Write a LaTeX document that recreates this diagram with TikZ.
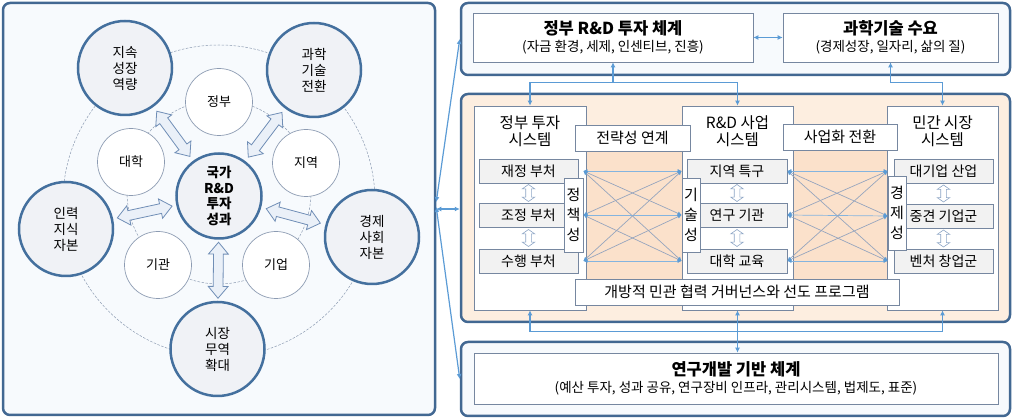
\documentclass[tikz,border=0pt]{standalone}
\usepackage{fontspec}
\setmainfont{Noto Sans CJK KR}
\usetikzlibrary{shapes,arrows,arrows.meta,positioning,calc}

\definecolor{panelline}{RGB}{66,104,146}
\definecolor{panelfill}{RGB}{247,250,253}
\definecolor{peach}{RGB}{253,238,224}
\definecolor{peachdark}{RGB}{251,225,203}
\definecolor{boxline}{RGB}{118,135,160}
\definecolor{subfill}{RGB}{242,242,242}
\definecolor{ringline}{RGB}{68,112,158}
\definecolor{circfill}{RGB}{240,242,246}
\definecolor{thinline}{RGB}{140,155,178}
\definecolor{connblue}{RGB}{91,155,213}
\definecolor{crossgray}{RGB}{150,165,190}
\definecolor{arrfill}{RGB}{234,240,248}
\definecolor{arrline}{RGB}{112,142,182}

\begin{document}
\begin{tikzpicture}[x=1pt, y=-1pt, >={Latex[length=5pt,width=5pt]},
    panel/.style={draw=panelline, line width=2.5pt, rounded corners=7pt, fill=panelfill, inner sep=0pt},
    ring/.style={circle, draw=thinline, dash pattern=on 2.5pt off 1.5pt, line width=0.5pt, inner sep=0pt},
    bigc/.style={circle, draw=ringline, line width=2.5pt, fill=circfill, minimum size=94pt, inner sep=0pt, align=center, font=\fontsize{13.5}{16}\selectfont},
    smallc/.style={circle, draw=thinline, line width=0.7pt, fill=white, minimum size=67pt, inner sep=0pt, font=\fontsize{13}{15}\selectfont},
    bigarrow/.style={double arrow, draw=arrline, fill=arrfill, line width=0.8pt, minimum height=56pt, inner xsep=0pt, inner ysep=4.5pt, double arrow head extend=5pt, double arrow tip angle=80, sloped},
    subarrow/.style={double arrow, draw=arrline!80, fill=white, line width=0.6pt, minimum height=17pt, inner xsep=0pt, inner ysep=2.5pt, double arrow head extend=3.5pt, double arrow tip angle=110, sloped},
    titlebox/.style={rectangle, draw=boxline, line width=0.7pt, fill=white, minimum height=49pt, inner sep=0pt, align=center, font=\fontsize{13.5}{17}\selectfont},
    sysbox/.style={rectangle, draw=boxline, line width=0.7pt, fill=white, minimum height=204pt, inner sep=0pt},
    syshead/.style={align=center, inner sep=0pt, font=\fontsize{15.5}{17}\selectfont},
    subbox/.style={rectangle, draw=boxline, line width=0.7pt, fill=subfill, minimum height=24pt, inner sep=0pt, font=\fontsize{14}{16}\selectfont},
    vbox/.style={rectangle, draw=boxline, line width=0.7pt, fill=white, minimum width=18pt, minimum height=74pt, inner sep=0pt, align=center, font=\fontsize{15}{20}\selectfont},
    labbox/.style={rectangle, draw=boxline, line width=0.7pt, fill=white, minimum height=26pt, inner sep=0pt, font=\fontsize{15}{17}\selectfont},
    conn/.style={draw=connblue, line width=1.2pt},
    cross/.style={draw=crossgray, line width=0.7pt, {Latex[length=4pt,width=4pt,color=connblue]}-{Latex[length=4pt,width=4pt,color=connblue]}},
    crossh/.style={cross, draw=connblue!75}]
    \useasboundingbox (0,0) rectangle (1013,419);

    % Left panel
    \node[panel, minimum width=432pt, minimum height=412pt] (leftpanel) at (219,209) {};
    \node[ring, minimum size=312pt] (outerring) at (219,201) {};
    \node[ring, minimum size=184pt] (innerring) at (219,192) {};

    % Outer circles
    \node[bigc] (jisok) at (125,68) {지속\\성장\\역량};
    \node[bigc] (gwahak) at (314,70) {과학\\기술\\전환};
    \node[bigc] (inryeok) at (66,229) {인력\\지식\\자본};
    \node[bigc] (gyeongje) at (372,237) {경제\\사회\\자본};
    \node[bigc] (sijang) at (217.5,349) {시장\\무역\\확대};

    % Inner circles
    \node[smallc] (jeongbu) at (219,102) {정부};
    \node[smallc] (daehakc) at (131,162) {대학};
    \node[smallc] (jiyeokc) at (306,163) {지역};
    \node[smallc] (gigwan) at (158,265) {기관};
    \node[smallc] (gieop) at (276,265) {기업};

    % Core
    \node[bigc, minimum size=85pt, font=\bfseries\fontsize{13.5}{15.5}\selectfont] (core) at (219,196) {국가\\R\&D\\투자\\성과};

    % Block arrows
    \path (core) -- node[bigarrow] (arrjisok) {} (jisok);
    \path (core) -- node[bigarrow] (arrgwahak) {} (gwahak);
    \path (core) -- node[bigarrow] (arrinryeok) {} (inryeok);
    \path (core) -- node[bigarrow] (arrgyeongje) {} (gyeongje);
    \path (core) -- node[bigarrow] (arrsijang) {} (sijang);

    % Top panel
    \node[panel, minimum width=549pt, minimum height=72pt] (toppanel) at (735.5,39) {};
    \node[titlebox, minimum width=280pt] (govrd) at (613,37.5) {{\bfseries\fontsize{16.5}{19}\selectfont 정부 R\&D 투자 체계}\\(자금 환경, 세제, 인센티브, 진흥)};
    \node[titlebox, minimum width=215pt] (scibox) at (890.5,37.5) {{\bfseries\fontsize{16.5}{19}\selectfont 과학기술 수요}\\(경제성장, 일자리, 삶의 질)};
    \draw[conn, <->] (govrd) -- (scibox);

    % Middle panel
    \node[panel, fill=peach, minimum width=549pt, minimum height=228pt] (midpanel) at (735.5,208) {};
    \fill[peachdark] (586,140) rectangle (682,292);
    \fill[peachdark] (793,140) rectangle (887,292);

    % Systems
    \node[sysbox, minimum width=112pt] (govsys) at (530,208) {};
    \node[sysbox, minimum width=111pt] (rdsys) at (737.5,208) {};
    \node[sysbox, minimum width=111pt] (minsys) at (942.5,208) {};
    \node[syshead] (govhead) at (530,131) {정부 투자\\시스템};
    \node[syshead] (rdhead) at (737.5,131) {R\&D 사업\\시스템};
    \node[syshead] (minhead) at (942.5,131) {민간 시장\\시스템};

    % Government
    \node[subbox, minimum width=99pt] (jaejeong) at (528.5,171) {재정 부처};
    \node[subbox, minimum width=99pt] (jojeong) at (528.5,215) {조정 부처};
    \node[subbox, minimum width=99pt] (suhaeng) at (528.5,261) {수행 부처};
    \path (jaejeong) -- node[subarrow] {} (jojeong);
    \path (jojeong) -- node[subarrow] {} (suhaeng);

    % R&D
    \node[subbox, minimum width=100pt] (jiyeok) at (737,171) {지역 특구};
    \node[subbox, minimum width=100pt] (yeongu) at (737,215) {연구 기관};
    \node[subbox, minimum width=100pt] (daehak) at (737,261) {대학 교육};
    \path (jiyeok) -- node[subarrow] {} (yeongu);
    \path (yeongu) -- node[subarrow] {} (daehak);

    % Market
    \node[subbox, minimum width=99pt] (daegiup) at (943.5,171) {대기업 산업};
    \node[subbox, minimum width=99pt] (junggyeon) at (943.5,216) {중견 기업군};
    \node[subbox, minimum width=99pt] (venture) at (943.5,261) {벤처 창업군};
    \path (daegiup) -- node[subarrow] {} (junggyeon);
    \path (junggyeon) -- node[subarrow] {} (venture);

    % Vertical labels
    \node[vbox, minimum width=19pt] (policy) at (573.5,215) {정\\책\\성};
    \node[vbox] (tech) at (691,215) {기\\술\\성};
    \node[vbox] (econ) at (897,213) {경\\제\\성};

    % Links between systems
    \coordinate (pA) at (policy.east |- jaejeong);
    \coordinate (pB) at (policy.east |- jojeong);
    \coordinate (pC) at (policy.east |- suhaeng);
    \coordinate (tA) at (tech.west |- jiyeok);
    \coordinate (tB) at (tech.west |- yeongu);
    \coordinate (tC) at (tech.west |- daehak);
    \coordinate (eA) at (econ.west |- daegiup);
    \coordinate (eB) at (econ.west |- junggyeon);
    \coordinate (eC) at (econ.west |- venture);
    \draw[crossh] (pA) -- (tA);
    \draw[cross] (pA) -- (tB);
    \draw[cross] (pA) -- (tC);
    \draw[cross] (pB) -- (tA);
    \draw[crossh] (pB) -- (tB);
    \draw[cross] (pB) -- (tC);
    \draw[cross] (pC) -- (tA);
    \draw[cross] (pC) -- (tB);
    \draw[crossh] (pC) -- (tC);
    \draw[crossh] (jiyeok.east) -- (eA);
    \draw[cross] (jiyeok.east) -- (eB);
    \draw[cross] (jiyeok.east) -- (eC);
    \draw[cross] (yeongu.east) -- (eA);
    \draw[crossh] (yeongu.east) -- (eB);
    \draw[cross] (yeongu.east) -- (eC);
    \draw[cross] (daehak.east) -- (eA);
    \draw[cross] (daehak.east) -- (eB);
    \draw[crossh] (daehak.east) -- (eC);

    % Middle labels
    \node[labbox, minimum width=115pt] (strategy) at (632.5,138) {전략성 연계};
    \node[labbox, minimum width=114pt] (commerce) at (840,137) {사업화 전환};
    \node[labbox, minimum width=324pt] (openprog) at (737,292) {개방적 민관 협력 거버넌스와 선도 프로그램};

    % Bottom panel
    \node[panel, minimum width=549pt, minimum height=74pt] (botpanel) at (735.5,379) {};
    \node[titlebox, minimum width=524pt, minimum height=51pt] (basebox) at (736,378.5) {{\bfseries\fontsize{16.5}{19}\selectfont 연구개발 기반 체계}\\(예산 투자, 성과 공유, 연구장비 인프라, 관리시스템, 법제도, 표준)};

    % Connectors
    \draw[conn, <-] (govrd.south) -- ++(0,20) coordinate (govbus);
    \draw[conn, ->] (govbus) -| (govsys.north);
    \draw[conn, ->] (govbus) -| (rdsys.north);
    \draw[conn, <->] (scibox.south) |- ($(minsys.north)+(0,-23)$) -- (minsys.north);
    \draw[conn, <->] (govsys.south) |- ($(minsys.south)+(0,21)$) -- (minsys.south);
    \draw[conn, <->] (rdsys.south) -- (rdsys.south |- basebox.north);
    \draw[conn, <->] ($(leftpanel.east)+(0,-7)$) -- (toppanel.west);
    \draw[conn, <->] ($(leftpanel.east)+(0,-2)$) -- (botpanel.west);
    \draw[conn, <->] (leftpanel.east) -- (leftpanel.east -| midpanel.west);
\end{tikzpicture}
\end{document}
